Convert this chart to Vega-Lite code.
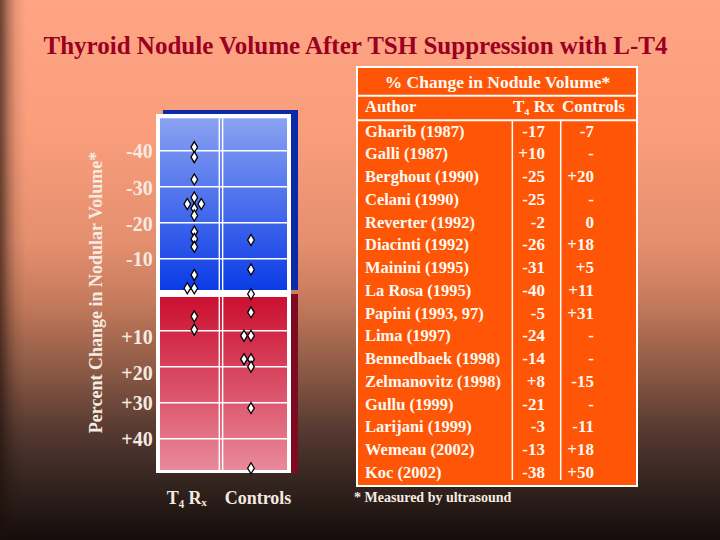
{
  "$schema": "https://vega.github.io/schema/vega-lite/v6.json",
  "width": 720,
  "height": 540,
  "padding": 0,
  "autosize": {"type": "none"},
  "background": "#140d0b",
  "config": {"view": {"stroke": null}},
  "title": {
    "text": "Thyroid Nodule Volume After TSH Suppression with L-T4",
    "anchor": "middle", "frame": "group", "orient": "top",
    "offset": -79, "baseline": "alphabetic", "dx": -4.5,
    "font": "Liberation Serif", "fontSize": 25, "fontWeight": "bold", "color": "#990022"
  },
  "datasets": {
    "studies": [
      {"Author": "Gharib (1987)", "T4": "-17", "Controls": "-7"},
      {"Author": "Galli (1987)", "T4": "+10", "Controls": "-"},
      {"Author": "Berghout (1990)", "T4": "-25", "Controls": "+20"},
      {"Author": "Celani (1990)", "T4": "-25", "Controls": "-"},
      {"Author": "Reverter (1992)", "T4": "-2", "Controls": "0"},
      {"Author": "Diacinti (1992)", "T4": "-26", "Controls": "+18"},
      {"Author": "Mainini (1995)", "T4": "-31", "Controls": "+5"},
      {"Author": "La Rosa (1995)", "T4": "-40", "Controls": "+11"},
      {"Author": "Papini (1993, 97)", "T4": "-5", "Controls": "+31"},
      {"Author": "Lima (1997)", "T4": "-24", "Controls": "-"},
      {"Author": "Bennedbaek (1998)", "T4": "-14", "Controls": "-"},
      {"Author": "Zelmanovitz (1998)", "T4": "+8", "Controls": "-15"},
      {"Author": "Gullu (1999)", "T4": "-21", "Controls": "-"},
      {"Author": "Larijani (1999)", "T4": "-3", "Controls": "-11"},
      {"Author": "Wemeau (2002)", "T4": "-13", "Controls": "+18"},
      {"Author": "Koc (2002)", "T4": "-38", "Controls": "+50"}
    ],
    "points": [
      {"group": "T₄ Rₓ", "change": -41, "side": "center"},
      {"group": "T₄ Rₓ", "change": -38.2, "side": "center"},
      {"group": "T₄ Rₓ", "change": -32, "side": "center"},
      {"group": "T₄ Rₓ", "change": -27, "side": "center"},
      {"group": "T₄ Rₓ", "change": -25.2, "side": "left"},
      {"group": "T₄ Rₓ", "change": -25.2, "side": "right"},
      {"group": "T₄ Rₓ", "change": -24, "side": "center"},
      {"group": "T₄ Rₓ", "change": -22, "side": "center"},
      {"group": "T₄ Rₓ", "change": -17.5, "side": "center"},
      {"group": "T₄ Rₓ", "change": -15.5, "side": "center"},
      {"group": "T₄ Rₓ", "change": -13.3, "side": "center"},
      {"group": "T₄ Rₓ", "change": -5.5, "side": "center"},
      {"group": "T₄ Rₓ", "change": -1.8, "side": "left"},
      {"group": "T₄ Rₓ", "change": -1.8, "side": "center"},
      {"group": "T₄ Rₓ", "change": 6, "side": "center"},
      {"group": "T₄ Rₓ", "change": 9.7, "side": "center"},
      {"group": "Controls", "change": -15.2, "side": "center"},
      {"group": "Controls", "change": -7, "side": "center"},
      {"group": "Controls", "change": -0.2, "side": "center"},
      {"group": "Controls", "change": 4.9, "side": "center"},
      {"group": "Controls", "change": 11.4, "side": "left"},
      {"group": "Controls", "change": 11.4, "side": "center"},
      {"group": "Controls", "change": 17.9, "side": "left"},
      {"group": "Controls", "change": 17.9, "side": "center"},
      {"group": "Controls", "change": 20, "side": "center"},
      {"group": "Controls", "change": 31.5, "side": "center"},
      {"group": "Controls", "change": 48.2, "side": "center"}
    ],
    "ticks": [
      {"label": "-40", "pos": -39.6},
      {"label": "-30", "pos": -29.3},
      {"label": "-20", "pos": -19.3},
      {"label": "-10", "pos": -9.6},
      {"label": "+10", "pos": 11.9},
      {"label": "+20", "pos": 21.9},
      {"label": "+30", "pos": 30.3},
      {"label": "+40", "pos": 40.3}
    ],
    "grid": [
      {"v": -40}, {"v": -30}, {"v": -20}, {"v": -10},
      {"v": 10}, {"v": 20}, {"v": 30}, {"v": 40}
    ]
  },
  "layer": [
    {
      "data": {"values": [{}]},
      "mark": {
        "type": "rect",
        "fill": {
          "gradient": "linear", "x1": 0, "y1": 0, "x2": 0, "y2": 1,
          "stops": [
            {"offset": 0, "color": "#ffa583"},
            {"offset": 0.25, "color": "#f99d7b"},
            {"offset": 0.45, "color": "#e48f6e"},
            {"offset": 0.56, "color": "#c57a5c"},
            {"offset": 0.68, "color": "#8e5b46"},
            {"offset": 0.8, "color": "#553930"},
            {"offset": 0.9, "color": "#32231e"},
            {"offset": 1, "color": "#140d0b"}
          ]
        }
      },
      "encoding": {}
    },
    {
      "data": {"values": [{}]},
      "mark": {
        "type": "rect",
        "fill": {
          "gradient": "linear", "x1": 0, "y1": 0, "x2": 1, "y2": 0,
          "stops": [
            {"offset": 0, "color": "rgba(30,15,10,0.65)"},
            {"offset": 0.004, "color": "rgba(30,15,10,0.55)"},
            {"offset": 0.012, "color": "rgba(30,15,10,0.3)"},
            {"offset": 0.022, "color": "rgba(30,15,10,0.1)"},
            {"offset": 0.036, "color": "rgba(30,15,10,0)"},
            {"offset": 1, "color": "rgba(30,15,10,0)"}
          ]
        }
      },
      "encoding": {}
    },
    {
      "layer": [
        {
          "data": {"values": [{}]},
          "mark": {"type": "rect", "color": "#0a2aa8"},
          "encoding": {
            "x": {"datum": "T₄ Rₓ", "bandPosition": -0.052, "axis": null,
                  "scale": {"type": "band", "domain": ["T₄ Rₓ", "Controls"], "range": [165.95, 279.35], "paddingInner": 0, "paddingOuter": 0}},
            "x2": {"datum": "Controls", "bandPosition": 1.329},
            "y": {"datum": -51.3, "type": "quantitative", "axis": null,
                  "scale": {"type": "linear", "domain": [-50, 50], "range": [114.7, 474.7], "nice": false, "zero": false}},
            "y2": {"datum": -1.3}
          }
        },
        {
          "data": {"values": [{}]},
          "mark": {"type": "rect", "color": "#7d0c22"},
          "encoding": {
            "x": {"datum": "T₄ Rₓ", "bandPosition": -0.052, "axis": null},
            "x2": {"datum": "Controls", "bandPosition": 1.329},
            "y": {"datum": -0.2, "type": "quantitative", "axis": null},
            "y2": {"datum": 49.5}
          }
        },
        {
          "data": {"values": [{}]},
          "mark": {"type": "rect", "color": "#ffffff"},
          "encoding": {
            "x": {"datum": "T₄ Rₓ", "bandPosition": -0.1755, "axis": null},
            "x2": {"datum": "Controls", "bandPosition": 1.2055},
            "y": {"datum": -50.2, "type": "quantitative", "axis": null},
            "y2": {"datum": 49.5}
          }
        },
        {
          "data": {"values": [{}]},
          "mark": {
            "type": "rect",
            "fill": {"gradient": "linear", "x1": 0, "y1": 0, "x2": 0, "y2": 1,
                     "stops": [{"offset": 0, "color": "#8aa2f2"}, {"offset": 1, "color": "#0b3be6"}]}
          },
          "encoding": {
            "x": {"datum": "T₄ Rₓ", "bandPosition": -0.105, "axis": null},
            "x2": {"datum": "Controls", "bandPosition": 1.135},
            "y": {"datum": -49, "type": "quantitative", "axis": null},
            "y2": {"datum": -1.3}
          }
        },
        {
          "data": {"values": [{}]},
          "mark": {
            "type": "rect",
            "fill": {"gradient": "linear", "x1": 0, "y1": 0, "x2": 0, "y2": 1,
                     "stops": [{"offset": 0, "color": "#cb0f30"}, {"offset": 1, "color": "#e98a9b"}]}
          },
          "encoding": {
            "x": {"datum": "T₄ Rₓ", "bandPosition": -0.105, "axis": null},
            "x2": {"datum": "Controls", "bandPosition": 1.135},
            "y": {"datum": 0.64, "type": "quantitative", "axis": null},
            "y2": {"datum": 48.7}
          }
        },
        {
          "data": {"name": "grid"},
          "mark": {"type": "rule", "color": "#ffffff", "strokeWidth": 1.5},
          "encoding": {
            "x": {"datum": "T₄ Rₓ", "bandPosition": -0.105, "axis": null},
            "x2": {"datum": "Controls", "bandPosition": 1.135},
            "y": {"field": "v", "type": "quantitative", "axis": null}
          }
        },
        {
          "data": {"values": [{}]},
          "mark": {"type": "rule", "color": "#ffffff", "strokeWidth": 1.4},
          "encoding": {
            "x": {"datum": "T₄ Rₓ", "bandPosition": 0.941, "axis": null},
            "y": {"datum": -49, "type": "quantitative", "axis": null},
            "y2": {"datum": 48.7}
          }
        },
        {
          "data": {"values": [{}]},
          "mark": {"type": "rule", "color": "#ffffff", "strokeWidth": 1.4},
          "encoding": {
            "x": {"datum": "T₄ Rₓ", "bandPosition": 1.0, "axis": null},
            "y": {"datum": -49, "type": "quantitative", "axis": null},
            "y2": {"datum": 48.7}
          }
        },
        {
          "data": {"name": "ticks"},
          "mark": {"type": "text", "align": "right", "baseline": "middle", "font": "Liberation Serif", "fontSize": 20, "fontWeight": "bold", "color": "#f5ebe1"},
          "encoding": {
            "x": {"datum": "T₄ Rₓ", "bandPosition": -0.234, "axis": null},
            "y": {"field": "pos", "type": "quantitative", "axis": null},
            "text": {"field": "label", "type": "nominal"}
          }
        },
        {
          "data": {"values": [{}]},
          "mark": {"type": "text", "text": "Percent Change in Nodular Volume*", "angle": 270, "align": "center", "baseline": "middle", "font": "Liberation Serif", "fontSize": 18, "fontWeight": "bold", "color": "#f5ebe1"},
          "encoding": {
            "x": {"datum": "T₄ Rₓ", "bandPosition": -1.221, "axis": null},
            "y": {"datum": -0.6, "type": "quantitative", "axis": null}
          }
        },
        {
          "data": {"values": [{}]},
          "mark": {"type": "text", "text": "T₄ Rₓ", "align": "center", "baseline": "middle", "font": "Liberation Serif", "fontSize": 18, "fontWeight": "bold", "color": "#f5ebe1"},
          "encoding": {
            "x": {"datum": "T₄ Rₓ", "bandPosition": 0.366, "axis": null},
            "y": {"datum": 56.8, "type": "quantitative", "axis": null}
          }
        },
        {
          "data": {"values": [{}]},
          "mark": {"type": "text", "text": "Controls", "align": "center", "baseline": "middle", "font": "Liberation Serif", "fontSize": 18, "fontWeight": "bold", "color": "#f5ebe1"},
          "encoding": {
            "x": {"datum": "Controls", "bandPosition": 0.623, "axis": null},
            "y": {"datum": 56.8, "type": "quantitative", "axis": null}
          }
        },
        {
          "data": {"name": "points"},
          "mark": {"type": "point", "shape": "M0,-1L0.6,0L0,1L-0.6,0Z", "filled": true, "fill": "#ffffff", "stroke": "#000000", "strokeWidth": 1.3, "size": 121, "opacity": 1},
          "encoding": {
            "x": {"field": "group", "type": "nominal", "axis": null},
            "xOffset": {"field": "side", "type": "nominal",
                        "scale": {"type": "point", "domain": ["left", "center", "right"], "range": [21.35, 35.35], "padding": 0}},
            "y": {"field": "change", "type": "quantitative", "axis": null}
          }
        }
      ]
    },
    {
      "layer": [
        {
          "data": {"values": [{}]},
          "mark": {"type": "rect", "fill": "#ff5507", "stroke": "#ffffff", "strokeWidth": 2},
          "encoding": {
            "x": {"datum": "Author", "bandPosition": 0, "axis": null,
                  "scale": {"type": "band", "domain": ["Author", "T₄ Rx", "Controls"], "range": [357, 637], "paddingInner": 0, "paddingOuter": 0}},
            "x2": {"datum": "Controls", "bandPosition": 1},
            "y": {"datum": "Gharib (1987)", "bandPosition": -2.346, "axis": null,
                  "scale": {"type": "band", "domain": ["Gharib (1987)", "Galli (1987)", "Berghout (1990)", "Celani (1990)", "Reverter (1992)", "Diacinti (1992)", "Mainini (1995)", "La Rosa (1995)", "Papini (1993, 97)", "Lima (1997)", "Bennedbaek (1998)", "Zelmanovitz (1998)", "Gullu (1999)", "Larijani (1999)", "Wemeau (2002)", "Koc (2002)"], "range": [120.33, 484.07], "paddingInner": 0, "paddingOuter": 0}},
            "y2": {"datum": "Koc (2002)", "bandPosition": 1.085}
          }
        },
        {
          "data": {"values": [{}]},
          "mark": {"type": "rule", "color": "#ffffff", "strokeWidth": 2},
          "encoding": {
            "x": {"datum": "Author", "bandPosition": 0, "axis": null},
            "x2": {"datum": "Controls", "bandPosition": 1},
            "y": {"datum": "Gharib (1987)", "bandPosition": -1.083, "axis": null}
          }
        },
        {
          "data": {"values": [{}]},
          "mark": {"type": "rule", "color": "#ffffff", "strokeWidth": 2},
          "encoding": {
            "x": {"datum": "Author", "bandPosition": 0, "axis": null},
            "x2": {"datum": "Controls", "bandPosition": 1},
            "y": {"datum": "Gharib (1987)", "bandPosition": 0, "axis": null}
          }
        },
        {
          "data": {"values": [{}]},
          "mark": {"type": "rule", "color": "#ffffff", "strokeWidth": 1.5},
          "encoding": {
            "x": {"datum": "T₄ Rx", "bandPosition": 0.6643, "axis": null},
            "y": {"datum": "Gharib (1987)", "bandPosition": 0, "axis": null},
            "y2": {"datum": "Koc (2002)", "bandPosition": 0.821}
          }
        },
        {
          "data": {"values": [{}]},
          "mark": {"type": "rule", "color": "#ffffff", "strokeWidth": 1.5},
          "encoding": {
            "x": {"datum": "Controls", "bandPosition": 0.1825, "axis": null},
            "y": {"datum": "Gharib (1987)", "bandPosition": 0, "axis": null},
            "y2": {"datum": "Koc (2002)", "bandPosition": 0.821}
          }
        },
        {
          "data": {"values": [{}]},
          "mark": {"type": "text", "text": "% Change in Nodule Volume*", "align": "center", "baseline": "middle", "font": "Liberation Serif", "fontSize": 17.5, "fontWeight": "bold", "color": "#fffaf2"},
          "encoding": {
            "x": {"datum": "T₄ Rx", "bandPosition": 0.505, "axis": null},
            "y": {"datum": "Gharib (1987)", "bandPosition": -1.642, "axis": null}
          }
        },
        {
          "data": {"values": [{}]},
          "mark": {"type": "text", "text": "Author", "align": "left", "baseline": "middle", "font": "Liberation Serif", "fontSize": 16.5, "fontWeight": "bold", "color": "#fffaf2"},
          "encoding": {
            "x": {"datum": "Author", "bandPosition": 0.0857, "axis": null},
            "y": {"datum": "Gharib (1987)", "bandPosition": -0.573, "axis": null}
          }
        },
        {
          "data": {"values": [{}]},
          "mark": {"type": "text", "text": "T₄ Rx", "align": "left", "baseline": "middle", "font": "Liberation Serif", "fontSize": 17, "fontWeight": "bold", "color": "#fffaf2"},
          "encoding": {
            "x": {"datum": "T₄ Rx", "bandPosition": 0.6714, "axis": null},
            "y": {"datum": "Gharib (1987)", "bandPosition": -0.573, "axis": null}
          }
        },
        {
          "data": {"values": [{}]},
          "mark": {"type": "text", "text": "Controls", "align": "left", "baseline": "middle", "font": "Liberation Serif", "fontSize": 17, "fontWeight": "bold", "color": "#fffaf2"},
          "encoding": {
            "x": {"datum": "Controls", "bandPosition": 0.1964, "axis": null},
            "y": {"datum": "Gharib (1987)", "bandPosition": -0.573, "axis": null}
          }
        },
        {
          "data": {"name": "studies"},
          "mark": {"type": "text", "align": "left", "baseline": "middle", "font": "Liberation Serif", "fontSize": 16.5, "fontWeight": "bold", "color": "#fffaf2"},
          "encoding": {
            "x": {"datum": "Author", "bandPosition": 0.0857, "axis": null},
            "y": {"field": "Author", "type": "nominal", "axis": null},
            "text": {"field": "Author", "type": "nominal"}
          }
        },
        {
          "data": {"name": "studies"},
          "mark": {"type": "text", "align": "right", "baseline": "middle", "font": "Liberation Serif", "fontSize": 17, "fontWeight": "bold", "color": "#fffaf2"},
          "encoding": {
            "x": {"datum": "T₄ Rx", "bandPosition": 1.0143, "axis": null},
            "y": {"field": "Author", "type": "nominal", "axis": null},
            "text": {"field": "T4", "type": "nominal"}
          }
        },
        {
          "data": {"name": "studies"},
          "mark": {"type": "text", "align": "right", "baseline": "middle", "font": "Liberation Serif", "fontSize": 17, "fontWeight": "bold", "color": "#fffaf2"},
          "encoding": {
            "x": {"datum": "Controls", "bandPosition": 0.5393, "axis": null},
            "y": {"field": "Author", "type": "nominal", "axis": null},
            "text": {"field": "Controls", "type": "nominal"}
          }
        },
        {
          "data": {"values": [{}]},
          "mark": {"type": "text", "text": "* Measured by ultrasound", "align": "left", "baseline": "middle", "font": "Liberation Serif", "fontSize": 14, "fontWeight": "bold", "color": "#f5ebe1"},
          "encoding": {
            "x": {"datum": "Author", "bandPosition": -0.032, "axis": null},
            "y": {"datum": "Koc (2002)", "bandPosition": 1.613, "axis": null}
          }
        }
      ]
    }
  ],
  "resolve": {"scale": {"x": "independent", "y": "independent"}}
}
